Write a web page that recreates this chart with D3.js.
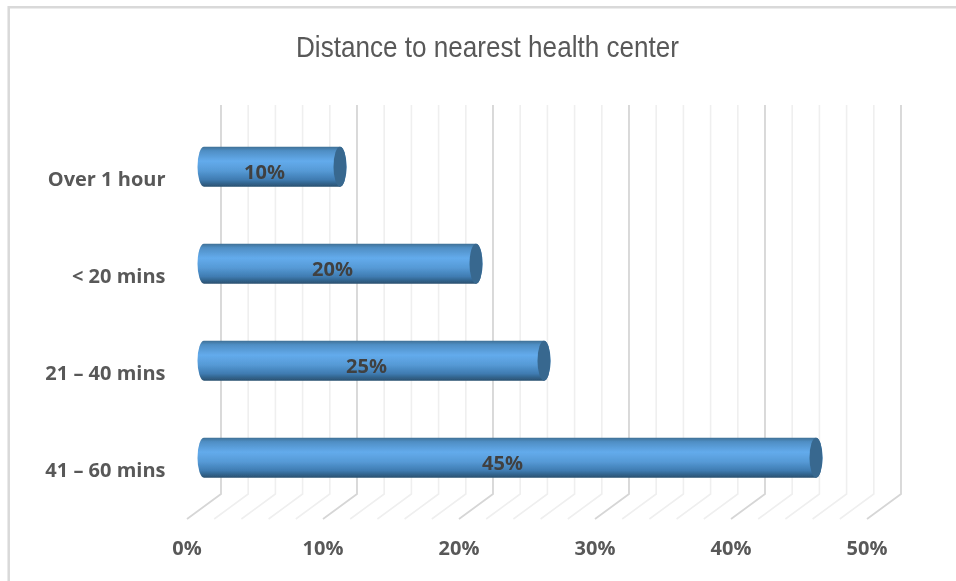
<!DOCTYPE html>
<html><head><meta charset="utf-8">
<script src="https://cdn.jsdelivr.net/npm/d3@7"></script>
<style>html,body{margin:0;padding:0;background:#fff}svg{display:block}</style>
</head><body><div id="c"></div>
<script>
const titleText = "Distance to nearest health center";
const categories = ["Over 1 hour", "< 20 mins", "21 – 40 mins", "41 – 60 mins"];
const values = [10, 20, 25, 45];
const minorTicks = [0,2,4,6,8,10,12,14,16,18,20,22,24,26,28,30,32,34,36,38,40,42,44,46,48,50];
const majorTicks = [0,10,20,30,40,50];

const W=956,H=581;
const svg=d3.select("#c").append("svg").attr("width",W).attr("height",H);
const defs=svg.append("defs");
const g=defs.append("linearGradient").attr("id","cyl").attr("x1",0).attr("x2",0).attr("y1",0).attr("y2",1);
[[0,"#3f7095"],[0.1,"#4f8ec4"],[0.36,"#63abec"],[0.6,"#569ad6"],[0.82,"#3f7cb2"],[1,"#29506f"]]
 .forEach(([o,c])=>g.append("stop").attr("offset",o).attr("stop-color",c));
defs.append("filter").attr("id","soft").append("feGaussianBlur").attr("stdDeviation",0.5);
defs.append("filter").attr("id","softText").append("feGaussianBlur").attr("stdDeviation",0.35);

// frame
svg.append("path").attr("d",`M8.7,${H} V7.3 H${W}`).attr("fill","none").attr("stroke","#d9d9d9").attr("stroke-width",2.5);

const x=d3.scaleLinear().domain([0,50]).range([204,884]);
const y=d3.scaleBand().domain(categories).range([118.2,506.2]).paddingInner(0.5876).paddingOuter(0.2938);
const depthX=17;
const back=v=>x(v)+depthX, front=v=>x(v)-depthX;
const topY=105, floorY=494, frontY=519;

const grid=svg.append("g").attr("fill","none").attr("filter","url(#soft)");
grid.selectAll("path").data(minorTicks).join("path")
 .attr("d",v=>`M${back(v)},${topY} V${floorY} L${front(v)},${frontY}`)
 .attr("stroke",v=>majorTicks.includes(v)?"#d6d6d6":"#efefef")
 .attr("stroke-width",v=>majorTicks.includes(v)?1.8:1.6);

const rx=6.5;
const bars=svg.append("g").attr("filter","url(#soft)");
const row=bars.selectAll("g").data(categories).join("g");
row.append("path")
 .attr("d",(c,i)=>{const t=y(c),b=t+y.bandwidth(),r=y.bandwidth()/2,x0=x(0),x1=x(values[i]);
   return `M${x0},${t} H${x1} A${rx},${r} 0 0 1 ${x1},${b} H${x0} A${rx},${r} 0 0 1 ${x0},${t} Z`;})
 .attr("fill","url(#cyl)");
row.append("ellipse")
 .attr("cx",(c,i)=>x(values[i])).attr("cy",c=>y(c)+y.bandwidth()/2)
 .attr("rx",rx).attr("ry",y.bandwidth()/2).attr("fill","#38688f");

const labelFont='"Open Sans", sans-serif';
const texts=svg.append("g").attr("filter","url(#softText)");
texts.append("text").attr("x",487.5).attr("y",57).attr("text-anchor","middle")
 .attr("font-family",'"Liberation Sans", sans-serif').attr("font-size",30)
 .attr("textLength",383).attr("lengthAdjust","spacingAndGlyphs")
 .attr("fill","#595959").text(titleText);

texts.selectAll(".cat").data(categories).join("text").attr("class","cat")
 .attr("x",165.5).attr("y",c=>y(c)+y.bandwidth()/2+19.5).attr("text-anchor","end")
 .attr("font-family",labelFont).attr("font-weight",700).attr("font-size",20).attr("fill","#595959").text(c=>c);

texts.selectAll(".tick").data(majorTicks).join("text").attr("class","tick")
 .attr("x",v=>front(v)).attr("y",555).attr("text-anchor","middle")
 .attr("font-family",labelFont).attr("font-weight",700).attr("font-size",20).attr("fill","#595959").text(v=>v+"%");

texts.selectAll(".val").data(categories).join("text").attr("class","val")
 .attr("x",(c,i)=>(x(0)+x(values[i]))/2-7.5).attr("y",c=>y(c)+y.bandwidth()/2+12).attr("text-anchor","middle")
 .attr("font-family",labelFont).attr("font-weight",700).attr("font-size",20).attr("fill","#404040").text((c,i)=>values[i]+"%");
</script></body></html>
